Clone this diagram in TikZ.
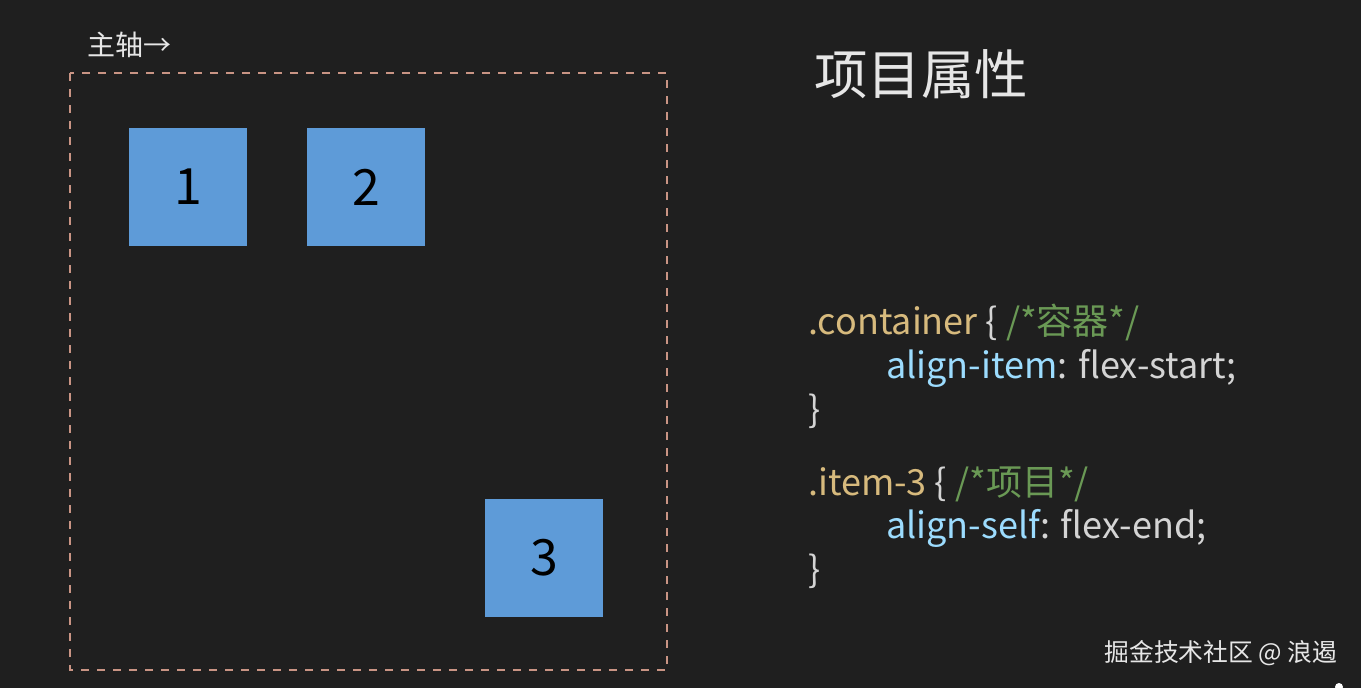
\documentclass[tikz,border=0pt]{standalone}
\usepackage{fontspec}
\setmainfont{Noto Sans CJK SC}
\definecolor{bg}{HTML}{1F1F1F}
\definecolor{dashc}{HTML}{C99484}
\definecolor{boxc}{HTML}{5E9BD8}
\definecolor{cls}{HTML}{D7BA7D}
\definecolor{cmt}{HTML}{6A9955}
\definecolor{prop}{HTML}{9CDCFE}
\definecolor{plain}{HTML}{D4D4D4}
\definecolor{wtext}{HTML}{E6E6E6}
\tikzset{
  itembox/.style={fill=boxc, draw=none, minimum width=118pt, minimum height=118pt, inner sep=0pt, text=black, font=\fontsize{50}{60}\selectfont},
  codeline/.style={anchor=base west, inner sep=0pt, text=plain, font=\fontsize{36}{40}\selectfont},
}
\begin{document}
\begin{tikzpicture}[x=1pt,y=-1pt]
\fill[bg] (0,0) rectangle (1361,688);
\useasboundingbox (0,0) rectangle (1361,688);
\node[inner sep=0pt, text=wtext, font=\fontsize{28}{32}\selectfont] (axis) at (129,45) {主轴→};
\draw[dashc, line width=1.3pt, dash pattern=on 8pt off 8pt] (70,73) rectangle (667,670);
\node[itembox] (b1) at (188,187) {1};
\node[itembox] (b2) at (366,187) {2};
\node[itembox] (b3) at (544,558) {3};
\node[inner sep=0pt, text=wtext, font=\fontsize{53.5}{60}\selectfont] (title) at (921,74) {项目属性};
\node[codeline] (l1) at (808,334) {\textcolor{cls}{.container}\ \{ \textcolor{cmt}{/*容器*/}};
\node[codeline] (l2) at (886,378) {\textcolor{prop}{align-item}: flex-start;};
\node[codeline] (l3) at (808,422) {\}};
\node[codeline] (l4) at (808,495) {\textcolor{cls}{.item-3}\ \{ \textcolor{cmt}{/*项目*/}};
\node[codeline] (l5) at (886,538) {\textcolor{prop}{align-self}: flex-end;};
\node[codeline] (l6) at (808,582) {\}};
\node[inner sep=0pt, text=wtext, font=\fontsize{24.8}{28}\selectfont] (wm) at (1221,653) {掘金技术社区 @ 浪遏};
\fill[white] (1339,687) circle (4);
\end{tikzpicture}
\end{document}
